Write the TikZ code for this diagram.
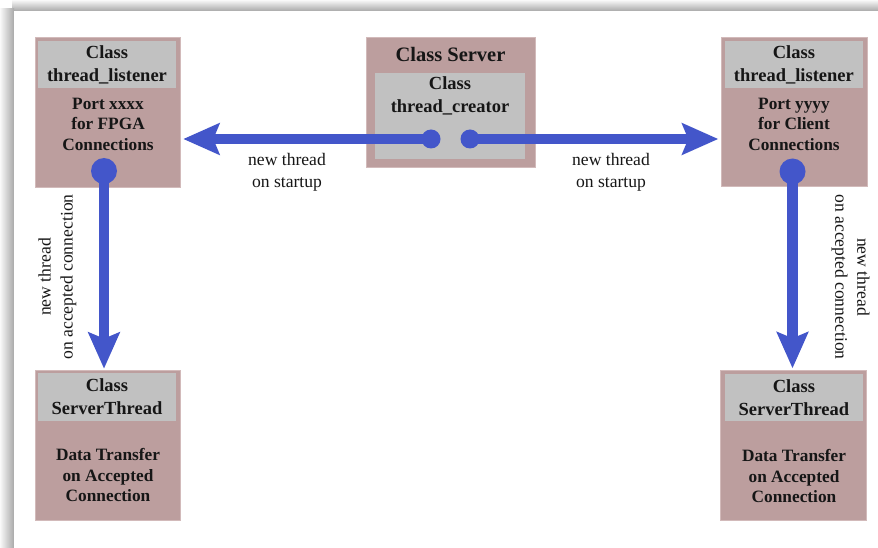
\documentclass[tikz,border=0pt]{standalone}
\usepackage{fontspec}
\setmainfont{Liberation Serif}
\usetikzlibrary{arrows.meta}
\definecolor{boxfill}{HTML}{BC9E9E}
\definecolor{boxline}{HTML}{D2BABA}
\definecolor{headfill}{HTML}{C1C1C1}
\definecolor{flowblue}{HTML}{4356CA}
\definecolor{ink}{HTML}{161616}
\newcommand\headfont{\fontsize{18.5}{23}\selectfont\bfseries}
\newcommand\titlefont{\fontsize{20.5}{23}\selectfont\bfseries}
\newcommand\bodyfont{\fontsize{17.3}{20.5}\selectfont\bfseries}
\newcommand\lblfont{\fontsize{17.6}{22}\selectfont}
\begin{document}
\begin{tikzpicture}[x=1pt,y=-1pt,
  classbox/.style={draw=boxline, fill=boxfill, line width=0.8pt, inner sep=0pt},
  headbox/.style={fill=headfill, inner sep=0pt, text=ink, align=center, font=\headfont},
  bodytxt/.style={inner sep=0pt, text=ink, align=center, font=\bodyfont},
  lbl/.style={inner sep=0pt, text=ink, align=center, font=\lblfont},
  dot/.style={circle, fill=flowblue, inner sep=0pt},
  flow/.style={draw=flowblue, line width=10.5pt,
    -{Stealth[length=36pt, width=31pt, inset=6pt]}}]
\useasboundingbox (0,0) rectangle (878,548);

% page with soft shadow along the top and left edges
\fill[white] (0,0) rectangle (878,548);
\shade[top color=gray!5, bottom color=gray!68] (12,0) rectangle (878,11);
\shade[left color=gray!5, right color=gray!68] (0,9) rectangle (14,548);
\fill[white] (14,11) rectangle (878,548);

% Class Server with its thread_creator
\node[classbox, minimum width=169pt, minimum height=130pt] (srv) at (450.5,102.3) {};
\node[headbox, minimum width=150pt, minimum height=86.6pt] (creator) at (450,116) {};
\node[bodytxt, font=\titlefont] (srvtitle) at (450.5,54) {Class Server};
\node[bodytxt, font=\headfont] (creatortxt) at (450,95.5) {Class\\thread\_creator};

% listener for FPGA connections
\node[classbox, minimum width=145.7pt, minimum height=150pt] (tl) at (108,112.3) {};
\node[headbox, minimum width=137.4pt, minimum height=47.6pt] (tlhead) at (107,64.5) {Class\\thread\_listener};
\node[bodytxt] (tlbody) at (108,124) {Port xxxx\\for FPGA\\Connections};

% listener for client connections
\node[classbox, minimum width=145.6pt, minimum height=149.4pt] (tr) at (794.5,112) {};
\node[headbox, minimum width=137.7pt, minimum height=47.6pt] (trhead) at (793.9,64.5) {Class\\thread\_listener};
\node[bodytxt] (trbody) at (794,124) {Port yyyy\\for Client\\Connections};

% server threads
\node[classbox, minimum width=145.7pt, minimum height=150.7pt] (bl) at (107.9,445.4) {};
\node[headbox, minimum width=137.4pt, minimum height=47.4pt] (blhead) at (107,397) {Class\\ServerThread};
\node[bodytxt] (blbody) at (108,475) {Data Transfer\\on Accepted\\Connection};

\node[classbox, minimum width=145.3pt, minimum height=150pt] (br) at (793.4,445.7) {};
\node[headbox, minimum width=137.7pt, minimum height=46.7pt] (brhead) at (793.9,397.4) {Class\\ServerThread};
\node[bodytxt] (brbody) at (794,476) {Data Transfer\\on Accepted\\Connection};

% thread start points
\node[dot, minimum size=19pt] (dotL) at (431,139) {};
\node[dot, minimum size=19pt] (dotR) at (470,139) {};
\node[dot, minimum size=26pt] (dotTL) at (104,171) {};
\node[dot, minimum size=26pt] (dotTR) at (792.5,171.5) {};

% thread creation arrows
\draw[flow, shorten >=2pt] (dotL.center) -- (dotL.center -| tl.east);
\draw[flow, shorten >=3pt] (dotR.center) -- (dotR.center -| tr.west);
\draw[flow, shorten >=1pt] (dotTL.center) -- (dotTL.center |- bl.north);
\draw[flow, shorten >=2pt] (dotTR.center) -- (dotTR.center |- br.north);

% arrow labels
\node[lbl] (lblTL) at (287,172) {new thread\\on startup};
\node[lbl] (lblTR) at (611,172) {new thread\\on startup};
\node[lbl, rotate=90] (lblL) at (57.5,277) {new thread\\on accepted connection};
\node[lbl, rotate=-90] (lblR) at (850.5,277) {new thread\\on accepted connection};
\end{tikzpicture}
\end{document}
